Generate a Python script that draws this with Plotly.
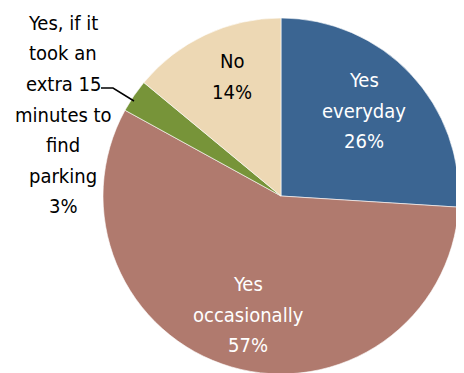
import plotly.graph_objects as go

categories = ["Yes<br>everyday", "Yes<br>occasionally", "Yes, if it<br>took an<br>extra 15<br>minutes to<br>find<br>parking", "No"]
values = [26, 57, 3, 14]
colors = ["#3B6592", "#B07A6E", "#779439", "#EDD8B4"]
text_colors = ["white", "white", "black", "black"]

W, H = 464, 373
OFF = 8  # page body margin
FONT = "DejaVu Sans Condensed, Liberation Sans Narrow, sans-serif"
FS = 20
PITCH = 30.5

fig = go.Figure(go.Pie(
    labels=[c.replace("<br>", " ") for c in categories],
    values=values,
    marker=dict(colors=colors, line=dict(color="white", width=0.6)),
    sort=False,
    direction="clockwise",
    rotation=0,
    textinfo="none",
    hoverinfo="label+percent",
    domain=dict(x=[(103 - OFF) / W, (459 - OFF) / W], y=[7 / H, 363 / H]),
    showlegend=False,
))

# centre x and first-line centre y (pixels, reference image) for each label
label_pos = [(364, 80), (248, 284), (63, 23), (232, 61)]

def px(x, y):
    return (x - OFF) / W, 1 - (y - OFF) / H

annotations = []
for cat, v, (lx, ly), tc in zip(categories, values, label_pos, text_colors):
    lines = cat.split("<br>") + [f"{v}%"]
    for i, line in enumerate(lines):
        ax, ay = px(lx, ly + i * PITCH)
        annotations.append(dict(
            x=ax, y=ay, xref="paper", yref="paper",
            text=line, showarrow=False,
            xanchor="center", yanchor="middle", align="center",
            font=dict(family=FONT, size=FS, color=tc),
        ))

x0, y0 = px(101, 88)
x1, y1 = px(113, 88)
x2, y2 = px(134, 101)

fig.update_layout(
    width=W, height=H,
    margin=dict(l=0, r=0, t=0, b=0),
    paper_bgcolor="white",
    plot_bgcolor="white",
    annotations=annotations,
    shapes=[dict(type="path", xref="paper", yref="paper",
                 path=f"M {x0} {y0} L {x1} {y1} L {x2} {y2}",
                 line=dict(color="black", width=1.5))],
)

fig.write_html("out.html")
